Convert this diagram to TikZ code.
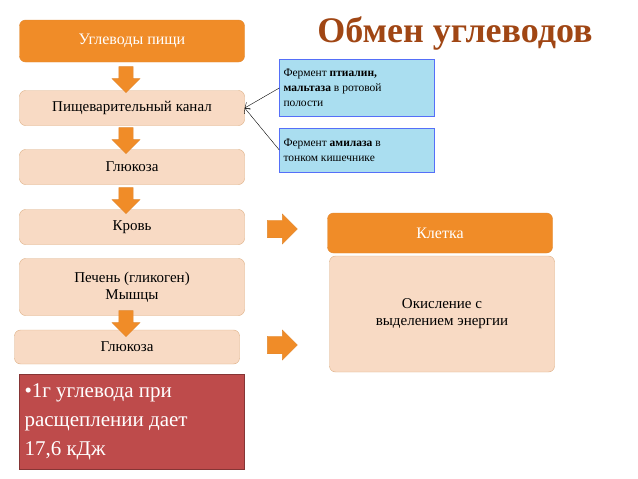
\documentclass[tikz,border=0pt]{standalone}
\usepackage{fontspec}
\setmainfont{Liberation Serif}
\usetikzlibrary{arrows.meta,shapes.arrows}
\definecolor{orng}{RGB}{240,140,40}
\definecolor{peach}{RGB}{248,218,196}
\definecolor{skyb}{RGB}{170,222,240}
\definecolor{redbox}{RGB}{190,75,75}
\definecolor{brwn}{RGB}{160,70,20}
\begin{document}
\begin{tikzpicture}[x=1pt, y=-1pt,
    stepbox/.style={draw=peach!50!brown, fill=peach, rounded corners=6pt, minimum width=225pt, font=\fontsize{15}{17}\selectfont, align=center, inner sep=2pt},
    hotbox/.style={draw=orng!70!brown, fill=orng, rounded corners=6pt, text=white, minimum width=225pt, font=\fontsize{16}{18}\selectfont},
    infobox/.style={draw=skyb!50!blue, fill=skyb, minimum width=155pt, align=flush left, text width=147pt, font=\fontsize{11.5}{15}\selectfont, inner sep=4pt},
    downarr/.style={single arrow, fill=orng, draw=orng!70!brown, rotate=-90, minimum height=26pt, minimum width=28pt, single arrow head extend=3pt, inner sep=3pt},
    sidearr/.style={single arrow, fill=orng, draw=orng!70!brown, minimum height=30pt, minimum width=30pt, single arrow head extend=3pt, inner sep=4pt}]
  \useasboundingbox (0,0) rectangle (638,479);
  \node[font=\fontsize{36}{38}\selectfont\bfseries, text=brwn] (title) at (455,33) {Обмен углеводов};

  \node[hotbox, minimum height=42pt] (food) at (132,41) {Углеводы пищи};
  \node[stepbox, minimum height=35pt] (canal) at (132,108) {Пищеварительный канал};
  \node[stepbox, minimum height=35pt] (gluc) at (132,167) {Глюкоза};
  \node[stepbox, minimum height=35pt] (blood) at (132,227) {Кровь};
  \node[stepbox, minimum height=57pt] (liver) at (132,287) {Печень (гликоген)\\Мышцы};
  \node[stepbox, minimum height=34pt] (gluc2) at (127,347) {Глюкоза};
  \node[draw=redbox!70!black, fill=redbox, text=white, minimum width=225pt, minimum height=95pt, text width=215pt, align=flush left, font=\fontsize{21}{29}\selectfont] (note) at (132,422) {•1г углевода при\\расщеплении дает\\17,6 кДж};

  \node[downarr] (d1) at (126,76) {};
  \node[downarr] (d2) at (126,137) {};
  \node[downarr] (d3) at (126,197) {};
  \node[downarr] (d4) at (126,320) {};

  \node[infobox, minimum height=57pt] (ptial) at (357,88) {Фермент \textbf{птиалин,}\\\textbf{мальтаза} в ротовой\\полости};
  \node[infobox, minimum height=44pt] (amyl) at (357,150) {Фермент \textbf{амилаза} в\\тонком кишечнике};
  \draw[-{Straight Barb[length=4pt]}] (ptial.west) -- (canal.east);
  \draw[-{Straight Barb[length=4pt]}] (amyl.west) -- (canal.east);

  \node[sidearr] (r1) at (278,229) {};
  \node[sidearr] (r2) at (278,345) {};

  \node[hotbox, minimum height=40pt] (cell) at (440,233) {Клетка};
  \node[stepbox, minimum height=116pt] (oxid) at (442,314) {Окисление с\\выделением энергии};
\end{tikzpicture}
\end{document}
